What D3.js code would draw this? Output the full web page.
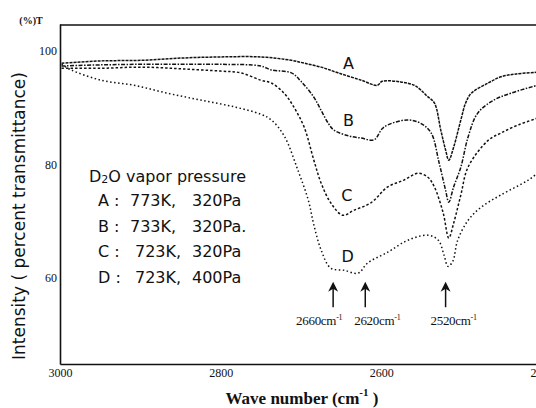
<!DOCTYPE html>
<html>
<head>
<meta charset="utf-8">
<script src="https://cdn.jsdelivr.net/npm/d3@7"></script>
<style>
  body { margin: 0; background: #fff; }
  svg { display: block; }
</style>
</head>
<body>
<div id="chart-area"></div>
<script>
// IR transmittance spectra of D2O vapour
// wave number in cm-1, transmittance in %

var wnA = [2998, 2949, 2899, 2849, 2800, 2750, 2712, 2696, 2675, 2654, 2625, 2605, 2599, 2576, 2559, 2551, 2543, 2534, 2526, 2520, 2516, 2510, 2501, 2495, 2488, 2467, 2451, 2432, 2406];
var tA  = [97.8, 98.2, 98.3, 98.7, 98.9, 98.9, 98.3, 97.8, 97.1, 96.1, 94.8, 93.9, 94.6, 94.5, 93.9, 93.1, 92.0, 90.8, 86.0, 82.5, 80.7, 83.0, 87.8, 90.8, 92.5, 94.3, 95.4, 95.9, 96.2];

var wnB = [2998, 2949, 2899, 2849, 2800, 2750, 2737, 2712, 2700, 2684, 2675, 2666, 2659, 2641, 2625, 2609, 2597, 2568, 2551, 2538, 2528, 2520, 2516, 2510, 2501, 2492, 2480, 2460, 2439, 2406];
var tB  = [97.3, 97.5, 97.6, 97.6, 97.6, 97.3, 96.6, 96.1, 94.6, 91.8, 89.5, 87.2, 86.0, 85.0, 84.6, 84.3, 86.5, 87.8, 87.2, 85.5, 80.2, 75.4, 73.3, 76.0, 79.5, 84.8, 89.0, 91.3, 92.5, 93.9];

var wnC = [2998, 2949, 2899, 2849, 2800, 2775, 2750, 2737, 2721, 2709, 2696, 2684, 2675, 2663, 2648, 2634, 2613, 2592, 2572, 2554, 2542, 2534, 2523, 2516, 2510, 2501, 2492, 2467, 2451, 2430, 2406];
var tC  = [96.9, 96.9, 97.1, 96.8, 96.4, 96.1, 94.8, 94.3, 92.5, 90.1, 86.5, 80.7, 76.7, 73.2, 71.0, 71.9, 73.2, 76.0, 77.2, 78.4, 77.7, 76.0, 71.4, 67.0, 69.6, 74.6, 79.5, 84.2, 85.5, 86.9, 88.1];

var wnD = [2998, 2986, 2949, 2908, 2866, 2825, 2783, 2750, 2737, 2721, 2704, 2691, 2684, 2675, 2663, 2646, 2629, 2617, 2592, 2567, 2542, 2529, 2522, 2517, 2511, 2505, 2492, 2476, 2451, 2417, 2406];
var tD  = [97.6, 96.6, 94.8, 93.9, 92.5, 91.3, 90.1, 88.8, 87.8, 85.0, 79.0, 73.7, 69.3, 64.9, 61.7, 61.3, 60.8, 62.6, 64.5, 66.6, 67.5, 66.6, 64.0, 62.0, 62.9, 66.6, 70.1, 72.4, 74.6, 77.2, 78.4];

var curveNames = ["A", "B", "C", "D"];
var curveLabelWn = [2641, 2641, 2643, 2642];
var curveLabelT = [97.8, 87.8, 74.6, 63.7];

var legendTitle = "vapor pressure";
var legendKeys = ["A :", "B :", "C :", "D :"];
var legendTemps = ["773K,", "733K,", "723K,", "723K,"];
var legendPress = ["320Pa", "320Pa.", "320Pa", "400Pa"];

var peakWn = [2660, 2620, 2520];
var xTicks = [3000, 2800, 2600, 2400];
var yTicks = [60, 80, 100];

var width = 536;
var height = 408;

var svg = d3.select("#chart-area")
  .append("svg")
  .attr("width", width)
  .attr("height", height);

var x = d3.scaleLinear().domain([3000, 2400]).range([60, 542]);
var y = d3.scaleLinear().domain([44.8, 104.7]).range([364, 24]);

// frame top
svg.append("line")
  .attr("x1", x(3000)).attr("x2", width)
  .attr("y1", y(104.7) + 1).attr("y2", y(104.7) + 1)
  .attr("stroke", "#111").attr("stroke-width", 1.6);

// axes
var xAxis = svg.append("g")
  .attr("transform", `translate(0, ${y(44.8)})`)
  .call(d3.axisBottom(x).tickValues(xTicks).tickFormat(d3.format("d")).tickSize(0).tickPadding(4));

var yAxis = svg.append("g")
  .attr("transform", `translate(${x(3000)}, 0)`)
  .call(d3.axisLeft(y).tickValues(yTicks).tickFormat(d3.format("d")).tickSize(0).tickPadding(3));

[xAxis, yAxis].forEach(g => {
  g.select(".domain").attr("stroke", "#111").attr("stroke-width", 1.6);
  g.selectAll("text")
    .attr("font-family", "'Liberation Serif', serif")
    .attr("font-size", "12px")
    .attr("fill", "#111");
});

// spectra
var series = [
  { name: "A", wn: wnA, t: tA, dash: "3,1" },
  { name: "B", wn: wnB, t: tB, dash: "4,1.5,1.5,1.5" },
  { name: "C", wn: wnC, t: tC, dash: "2.5,2" },
  { name: "D", wn: wnD, t: tD, dash: "1.5,2.5" }
];

var line = d3.line()
  .x(d => x(d[0]))
  .y(d => y(d[1]))
  .curve(d3.curveCatmullRom.alpha(0.5));

svg.selectAll(".spectrum")
  .data(series)
  .enter()
  .append("path")
  .attr("class", "spectrum")
  .attr("d", d => line(d.wn.map((w, i) => [w, d.t[i]])))
  .attr("fill", "none")
  .attr("stroke", "#111")
  .attr("stroke-width", 1.5)
  .attr("stroke-dasharray", d => d.dash);

// curve letters
svg.selectAll(".curve-label")
  .data(curveNames)
  .enter()
  .append("text")
  .attr("class", "curve-label")
  .attr("x", (d, i) => x(curveLabelWn[i]))
  .attr("y", (d, i) => y(curveLabelT[i]))
  .attr("dy", "0.36em")
  .attr("text-anchor", "middle")
  .attr("font-family", "'DejaVu Sans', sans-serif")
  .attr("font-size", "16px")
  .attr("fill", "#111")
  .text(d => d);

// legend block
var legend = svg.append("g")
  .attr("font-family", "'DejaVu Sans', sans-serif")
  .attr("font-size", "16px")
  .attr("fill", "#111");

var head = legend.append("text").attr("x", 89).attr("y", 182);
head.append("tspan").text("D");
head.append("tspan").attr("font-size", "11px").attr("dy", 1).text("2");
head.append("tspan").attr("dy", -1).text("O " + legendTitle);

legendKeys.forEach((k, i) => {
  var yy = 206 + i * 25.7;
  legend.append("text").attr("x", 98).attr("y", yy).text(k);
  legend.append("text").attr("x", i < 2 ? 130 : 135).attr("y", yy).text(legendTemps[i]);
  legend.append("text").attr("x", 192).attr("y", yy).text(legendPress[i]);
});

// peak arrows
var arrowTipT = 59.3;
var arrowTailT = 54.8;
var labelDx = [-14, 12, 8];

var arrows = svg.selectAll(".peak")
  .data(peakWn)
  .enter()
  .append("g")
  .attr("class", "peak")
  .attr("transform", d => `translate(${x(d)}, 0)`);

arrows.append("line")
  .attr("x1", 0).attr("x2", 0)
  .attr("y1", y(arrowTipT) + 6).attr("y2", y(arrowTailT))
  .attr("stroke", "#111").attr("stroke-width", 1.5);

arrows.append("path")
  .attr("d", `M0,${y(arrowTipT)} L-5,${y(arrowTipT) + 10} L0,${y(arrowTipT) + 7} L5,${y(arrowTipT) + 10} Z`)
  .attr("fill", "#111");

var peakText = arrows.append("text")
  .attr("x", (d, i) => labelDx[i])
  .attr("y", 325)
  .attr("text-anchor", "middle")
  .attr("font-family", "'Liberation Serif', serif")
  .attr("font-size", "13px")
  .attr("letter-spacing", "-0.3px")
  .attr("fill", "#111");
peakText.append("tspan").text(d => d + "cm");
peakText.append("tspan").attr("font-size", "8px").attr("dy", -5).text("-1");

// titles
svg.append("text")
  .attr("x", 31).attr("y", 24)
  .attr("text-anchor", "middle")
  .attr("font-family", "'Liberation Serif', serif")
  .attr("font-weight", "bold")
  .attr("font-size", "10px")
  .attr("fill", "#111")
  .text("(%)T");

svg.append("text")
  .attr("transform", "translate(25, 216) rotate(-90)")
  .attr("text-anchor", "middle")
  .attr("font-family", "'DejaVu Sans', sans-serif")
  .attr("font-size", "17px")
  .attr("fill", "#111")
  .text("Intensity ( percent transmittance)");

var xTitle = svg.append("text")
  .attr("x", 302).attr("y", 404)
  .attr("text-anchor", "middle")
  .attr("font-family", "'Liberation Serif', serif")
  .attr("font-weight", "bold")
  .attr("font-size", "17px")
  .attr("fill", "#111");
xTitle.append("tspan").text("Wave number (cm");
xTitle.append("tspan").attr("font-size", "11px").attr("dy", -8).text("-1");
xTitle.append("tspan").attr("dy", 8).text(" )");
</script>
</body>
</html>
